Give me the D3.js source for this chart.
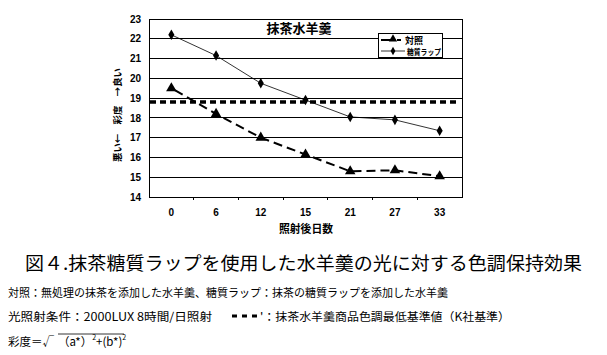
<!DOCTYPE html>
<html><head><meta charset="utf-8">
<script src="https://cdn.jsdelivr.net/npm/d3@7"></script>
<style>body{margin:0;background:#fff}svg{display:block}</style>
</head><body>
<script>
const days = ["0","6","12","15","21","27","33"];
const controlValues = [19.5, 18.2, 17.0, 16.15, 15.3, 15.35, 15.05];
const wrapValues = [22.2, 21.15, 19.75, 18.9, 18.05, 17.9, 17.35];
const threshold = 18.8;
const yTicks = [14,15,16,17,18,19,20,21,22,23];
const seriesNames = ["対照", "糖質ラップ"];

const W = 607, H = 355;
const svg = d3.select("body").append("svg").attr("width", W).attr("height", H);
const L = 149, R = 462, T = 19, B = 197;
const x = d3.scaleBand().domain(days).range([L, R]);
const y = d3.scaleLinear().domain([14, 23]).range([B, T]);
const font = "'Liberation Sans', Arial, sans-serif";
const jp = "'Noto Sans CJK JP', sans-serif";

// gridlines
svg.append("g").selectAll("line").data(yTicks).join("line")
  .attr("x1", L).attr("x2", R).attr("y1", d => y(d)).attr("y2", d => y(d))
  .attr("stroke", "#000").attr("stroke-width", 1).attr("shape-rendering", "crispEdges");
svg.append("rect").attr("x", L).attr("y", T).attr("width", R - L).attr("height", B - T)
  .attr("fill", "none").attr("stroke", "#000").attr("shape-rendering", "crispEdges");

// y axis
const ya = svg.append("g").attr("transform", `translate(${L},0)`)
  .call(d3.axisLeft(y).tickValues(yTicks).tickSize(0).tickPadding(8));
ya.select(".domain").remove();
ya.selectAll("text").attr("font-family", font).attr("font-weight", "bold").attr("font-size", 10).attr("fill", "#000");

// x axis
const xa = svg.append("g").attr("transform", `translate(0,${B})`)
  .call(d3.axisBottom(x).tickSize(0).tickPadding(12));
xa.select(".domain").remove();
xa.selectAll("text").attr("font-family", font).attr("font-weight", "bold").attr("font-size", 10).attr("fill", "#000");
svg.append("g").selectAll("line").data(days.slice(1)).join("line")
  .attr("x1", d => x(d)).attr("x2", d => x(d)).attr("y1", B).attr("y2", B + 3)
  .attr("stroke", "#000").attr("shape-rendering", "crispEdges");

// threshold
svg.append("line").attr("x1", L + 1).attr("x2", R - 6).attr("y1", y(threshold)).attr("y2", y(threshold))
  .attr("stroke", "#000").attr("stroke-width", 3.5).attr("stroke-dasharray", "6,4");

const cx = d => x(d) + x.bandwidth() / 2;
// wrap series
svg.append("path").datum(wrapValues)
  .attr("d", d3.line().x((d, i) => cx(days[i])).y(d => y(d)))
  .attr("fill", "none").attr("stroke", "#000").attr("stroke-width", 0.8);
const diamond = d3.symbol().type(d3.symbolDiamond).size(32);
svg.append("g").selectAll("path").data(wrapValues).join("path")
  .attr("d", diamond).attr("transform", (d, i) => `translate(${cx(days[i])},${y(d)})`).attr("fill", "#000");

// control series
svg.append("path").datum(controlValues)
  .attr("d", d3.line().x((d, i) => cx(days[i])).y(d => y(d)))
  .attr("fill", "none").attr("stroke", "#000").attr("stroke-width", 2).attr("stroke-dasharray", "9,5")
  .attr("stroke-dashoffset", -4);
const tri = d3.symbol().type(d3.symbolTriangle).size(48);
svg.append("g").selectAll("path").data(controlValues).join("path")
  .attr("d", tri).attr("transform", (d, i) => `translate(${cx(days[i])},${y(d)})`).attr("fill", "#000");

// chart title
svg.append("text").attr("x", 299).attr("y", 33).attr("text-anchor", "middle")
  .attr("font-family", jp).attr("font-weight", "bold").attr("font-size", 13).text("抹茶水羊羹");

// legend
const lg = svg.append("g");
lg.append("rect").attr("x", 378.5).attr("y", 33.5).attr("width", 64).attr("height", 24)
  .attr("fill", "#fff").attr("stroke", "#000").attr("shape-rendering", "crispEdges");
lg.append("line").attr("x1", 381).attr("x2", 393).attr("y1", 40).attr("y2", 40).attr("stroke", "#000").attr("stroke-width", 2);
lg.append("line").attr("x1", 397).attr("x2", 401).attr("y1", 40).attr("y2", 40).attr("stroke", "#000").attr("stroke-width", 2);
lg.append("path").attr("d", d3.symbol().type(d3.symbolTriangle).size(30)).attr("transform", "translate(393,39)");
lg.append("text").attr("x", 405).attr("y", 44).attr("font-family", jp).attr("font-weight", "bold").attr("font-size", 9).text(seriesNames[0]);
lg.append("line").attr("x1", 381).attr("x2", 405).attr("y1", 51).attr("y2", 51).attr("stroke", "#000").attr("stroke-width", 0.8);
lg.append("path").attr("d", d3.symbol().type(d3.symbolDiamond).size(20)).attr("transform", "translate(393,51)");
lg.append("text").attr("x", 407).attr("y", 55).attr("font-family", jp).attr("font-weight", "bold").attr("font-size", 8)
  .attr("textLength", 34).attr("lengthAdjust", "spacingAndGlyphs").text(seriesNames[1]);

// axis titles
svg.append("text").attr("transform", "translate(121,115) rotate(-90)").attr("text-anchor", "middle")
  .attr("font-family", jp).attr("font-weight", "bold").attr("font-size", 9.5)
  .attr("textLength", 94).attr("lengthAdjust", "spacingAndGlyphs").text("悪い←　彩度　→良い");
svg.append("text").attr("x", 306).attr("y", 233).attr("text-anchor", "middle")
  .attr("font-family", jp).attr("font-weight", "bold").attr("font-size", 11)
  .attr("textLength", 54).attr("lengthAdjust", "spacingAndGlyphs").text("照射後日数");

// captions
svg.append("text").attr("x", 25).attr("y", 270).attr("font-family", jp).attr("font-size", 18.5)
  .attr("textLength", 557).attr("lengthAdjust", "spacingAndGlyphs").text("図４.抹茶糖質ラップを使用した水羊羹の光に対する色調保持効果");
svg.append("text").attr("x", 8).attr("y", 297).attr("font-family", jp).attr("font-size", 11.5)
  .attr("textLength", 440).attr("lengthAdjust", "spacingAndGlyphs").text("対照：無処理の抹茶を添加した水羊羹、糖質ラップ：抹茶の糖質ラップを添加した水羊羹");
svg.append("text").attr("x", 8).attr("y", 321).attr("font-family", jp).attr("font-size", 11.5)
  .attr("textLength", 204).attr("lengthAdjust", "spacingAndGlyphs").text("光照射条件：2000LUX 8時間/日照射");
svg.append("line").attr("x1", 232).attr("x2", 258).attr("y1", 316).attr("y2", 316)
  .attr("stroke", "#000").attr("stroke-width", 3).attr("stroke-dasharray", "5,5");
svg.append("text").attr("x", 260).attr("y", 321).attr("font-family", jp).attr("font-size", 11.5)
  .attr("textLength", 250).attr("lengthAdjust", "spacingAndGlyphs").text("'：抹茶水羊羹商品色調最低基準値（K社基準）");
const f = svg.append("text").attr("x", 8).attr("y", 346).attr("font-family", jp).attr("font-size", 11.5);
f.append("tspan").text("彩度＝√");
f.append("tspan").attr("dx", 4).text("（a*）");
f.append("tspan").attr("dy", -6).attr("font-size", 7).text("2");
f.append("tspan").attr("dy", 6).text("+(b*)");
f.append("tspan").attr("dy", -6).attr("font-size", 7).text("2");
svg.append("line").attr("x1", 58).attr("x2", 124).attr("y1", 334).attr("y2", 334).attr("stroke", "#000").attr("stroke-width", 0.8);
</script>
</body></html>
